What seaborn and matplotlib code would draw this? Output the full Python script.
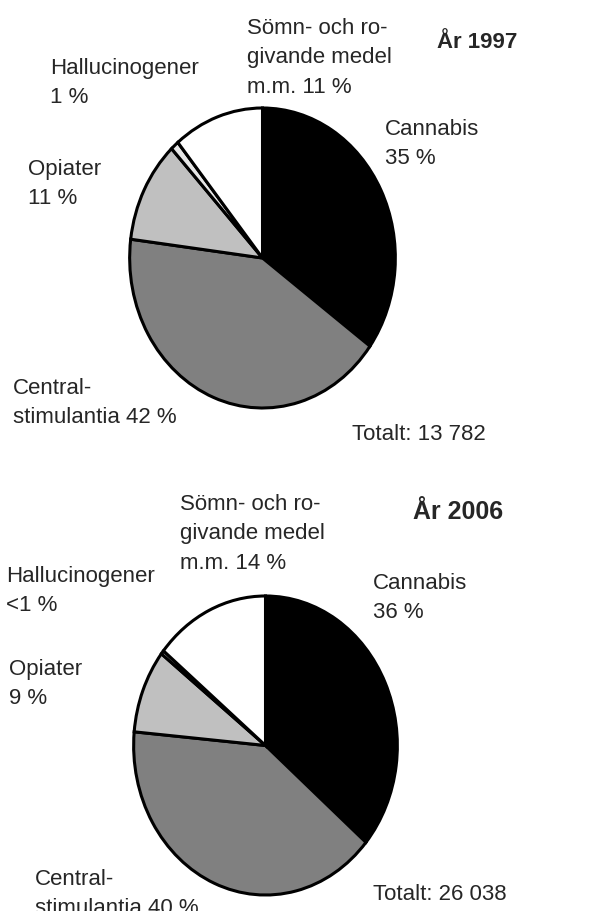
import matplotlib
matplotlib.use("Agg")
import matplotlib.pyplot as plt
import seaborn as sns

# Data
categories = ["Cannabis", "Centralstimulantia", "Opiater", "Hallucinogener", "Sömn- och rogivande medel"]
values_1997 = [35, 42, 11, 1, 11]
values_2006 = [36, 40, 9, 0.4, 14]
colors = ["#000000", "#808080", "#c0c0c0", "#e6e6e6", "#ffffff"]

labels_1997 = ["Cannabis\n35 %", "Central-\nstimulantia 42 %", "Opiater\n11 %",
               "Hallucinogener\n1 %", "Sömn- och ro-\ngivande medel\nm.m. 11 %"]
labels_2006 = ["Cannabis\n36 %", "Central-\nstimulantia 40 %", "Opiater\n9 %",
               "Hallucinogener\n<1 %", "Sömn- och ro-\ngivande medel\nm.m. 14 %"]
titles = ["År 1997", "År 2006"]
totals = ["Totalt: 13 782", "Totalt: 26 038"]

sns.set_style("white")
plt.rcParams["font.family"] = ["Liberation Sans", "DejaVu Sans"]

W, H = 594, 911
fig = plt.figure(figsize=(W / 100, H / 100), dpi=100)


def px_axes(left, top, right, bottom):
    return fig.add_axes([left / W, 1 - bottom / H, (right - left) / W, (bottom - top) / H])


def px_text(x, y, s, size=16, **kw):
    fig.text(x / W, 1 - y / H, s, ha="left", va="top", fontsize=size, linespacing=1.52, **kw)


def draw_pie(ax, vals):
    ax.pie(vals, colors=colors, startangle=90, counterclock=False,
           wedgeprops=dict(edgecolor="black", linewidth=2.2))
    ax.set_aspect("auto")
    ax.set_xlim(-1.02, 1.02)
    ax.set_ylim(-1.02, 1.02)
    ax.axis("off")


# År 1997
ax1 = px_axes(127, 105, 398, 411)
draw_pie(ax1, values_1997)
pos_1997 = [(385, 119), (13, 378), (28, 159), (50, 58), (247, 18)]
for (x, y), lab in zip(pos_1997, labels_1997):
    px_text(x, y, lab)
px_text(437, 32, titles[0], size=16, fontweight="bold")
px_text(352, 424, totals[0])

# År 2006
ax2 = px_axes(131, 593, 400, 898)
draw_pie(ax2, values_2006)
pos_2006 = [(373, 573), (35, 869), (9, 659), (6, 566), (180, 494)]
for (x, y), lab in zip(pos_2006, labels_2006):
    px_text(x, y, lab)
px_text(413, 500, titles[1], size=18, fontweight="bold")
px_text(373, 884, totals[1])

fig.savefig("out.png", dpi=100)
